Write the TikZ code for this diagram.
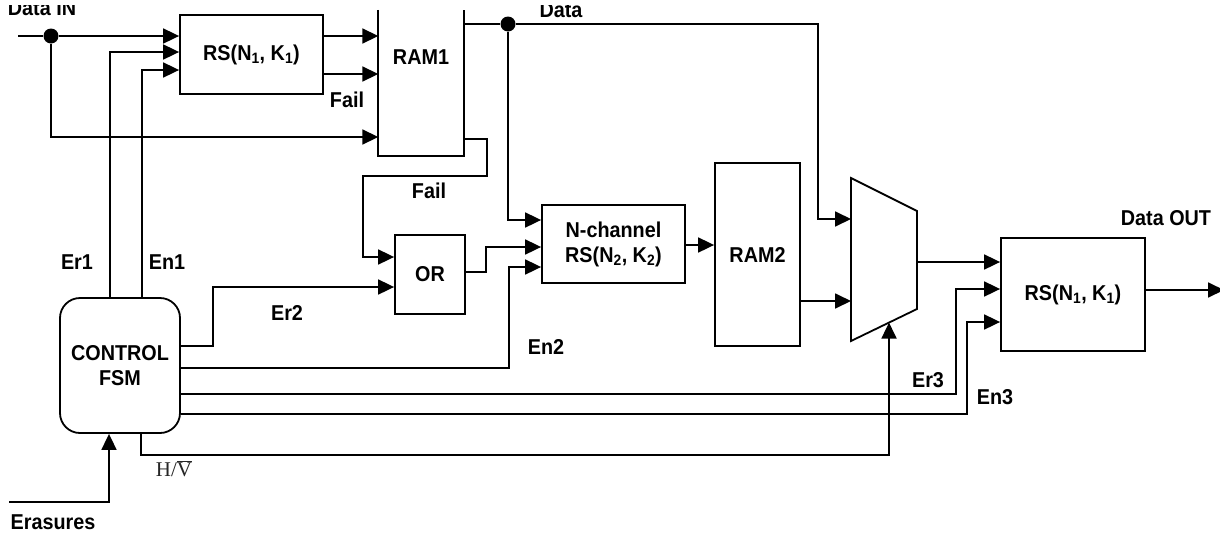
\documentclass[tikz,border=0pt]{standalone}
\usepackage{fontspec}
\setmainfont{Liberation Sans}[FakeStretch=0.92]
\newfontfamily\seriffam{Liberation Serif}
\usetikzlibrary{arrows.meta,calc}
\begin{document}
\begin{tikzpicture}[x=1pt,y=-1pt,
  wire/.style={line width=1.8pt},
  arr/.style={wire,-{Triangle[length=16pt,width=15pt]}},
  blk/.style={draw,line width=1.8pt,inner sep=0pt,align=center,font=\bfseries\fontsize{21.5}{25}\selectfont},
  lbl/.style={font=\bfseries\fontsize{21.5}{25}\selectfont,inner sep=0pt},
  dot/.style={circle,fill,inner sep=0pt,minimum size=15pt}]
\useasboundingbox (0,0) rectangle (1220,536);
% blocks
\node[blk,minimum width=143pt,minimum height=79pt] (rs1) at (251.5,54.5) {RS(N\textsubscript{1}, K\textsubscript{1})};
\node[inner sep=0pt,minimum width=85pt,minimum height=146pt] (ram1) at (421,83) {};
\draw[wire] (ram1.north west) -- (ram1.south west) -- (ram1.south east) -- (ram1.north east);
\node[lbl] (ram1t) at (421,57) {RAM1};
\node[blk,minimum width=70pt,minimum height=79pt] (or) at (430,274.5) {OR};
\node[blk,minimum width=143pt,minimum height=78pt] (nch) at (613.5,244) {N-channel\\RS(N\textsubscript{2}, K\textsubscript{2})};
\node[blk,minimum width=85pt,minimum height=183pt] (ram2) at (757.5,254.5) {RAM2};
\node[blk,minimum width=144pt,minimum height=113pt] (rs3) at (1073,294.5) {RS(N\textsubscript{1}, K\textsubscript{1})};
\node[blk,rounded corners=20pt,minimum width=120pt,minimum height=135pt] (fsm) at (120,365.5) {CONTROL\\FSM};
% mux
\coordinate (mtl) at (851,178);
\coordinate (mtr) at (917,211);
\coordinate (mbr) at (917,309);
\coordinate (mbl) at (851,341);
\draw[wire] (mtl) -- (mtr) -- (mbr) -- (mbl) -- cycle;
\coordinate (hvin) at ($(mbl)!0.576!(mbr)$);
% free ends
\coordinate (inL) at (18,36);
\coordinate (er) at (9,502);
\coordinate (dout) at (1224,290);
% dots
\node[dot] (d1) at (51,36) {};
\node[dot] (d2) at (508,24) {};
% wires
\draw[wire] (inL) -- (d1);
\draw[arr] (d1) -- (rs1.west |- d1);
\draw[arr] (d1) -- (d1 |- 0,137) -- (ram1.west |- 0,137);
\draw[arr] (fsm.north -| 110,0) -- (110,52) -- (rs1.west |- 0,52);
\draw[arr] (fsm.north -| 142,0) -- (142,70) -- (rs1.west |- 0,70);
\draw[arr] (rs1.east |- 0,36) -- (ram1.west |- 0,36);
\draw[arr] (rs1.east |- 0,74) -- (ram1.west |- 0,74);
\draw[wire] (ram1.east |- d2) -- (d2);
\draw[arr] (d2) -- (818,24) -- (818,219) -- (mtl |- 0,219);
\draw[arr] (d2) -- (d2 |- 0,220) -- (nch.west |- 0,220);
\draw[arr] (ram1.east |- 0,139) -- (487,139) -- (487,176) -- (363,176) -- (363,257) -- (or.west |- 0,257);
\draw[arr] (fsm.east |- 0,346) -- (213,346) -- (213,287) -- (or.west |- 0,287);
\draw[arr] (or.east |- 0,272) -- (486,272) -- (486,247) -- (nch.west |- 0,247);
\draw[arr] (fsm.east |- 0,368) -- (509,368) -- (509,267) -- (nch.west |- 0,267);
\draw[arr] (nch.east |- 0,245) -- (ram2.west |- 0,245);
\draw[arr] (ram2.east |- 0,301) -- (mtl |- 0,301);
\draw[arr] (mtr |- 0,262) -- (rs3.west |- 0,262);
\draw[arr] (fsm.east |- 0,394) -- (956,394) -- (956,289) -- (rs3.west |- 0,289);
\draw[arr] (fsm.east |- 0,414) -- (967,414) -- (967,322) -- (rs3.west |- 0,322);
\draw[arr] (fsm.south -| 141,0) -- (141,455) -- (hvin |- 0,455) -- (hvin);
\draw[arr] (er) -- (109,502) -- (fsm.south -| 109,0);
\draw[arr] (rs3.east |- dout) -- (dout);
% labels
\node[lbl,anchor=base] (dinl) at (42,15) {Data IN};
\node[lbl,anchor=base] (datal) at (561,17) {Data};
\node[lbl] (fail1) at (347,100) {Fail};
\node[lbl] (fail2) at (429,191) {Fail};
\node[lbl] (er1l) at (77,262) {Er1};
\node[lbl] (en1l) at (167,262) {En1};
\node[lbl] (er2l) at (287,313) {Er2};
\node[lbl] (en2l) at (546,347) {En2};
\node[lbl] (er3l) at (928,380) {Er3};
\node[lbl] (en3l) at (995,397) {En3};
\node[lbl] (doutl) at (1166,218) {Data OUT};
\node[lbl] (erl) at (53,522) {Erasures};
\node[inner sep=0pt,text=black!85,font=\fontsize{21}{22}\selectfont] (hvl) at (174,469) {\seriffam H/$\overline{\hbox{\seriffam V}}$};
% top edge of the cropped figure
\fill[white] (0,0) rectangle (1220,5);
\end{tikzpicture}
\end{document}
